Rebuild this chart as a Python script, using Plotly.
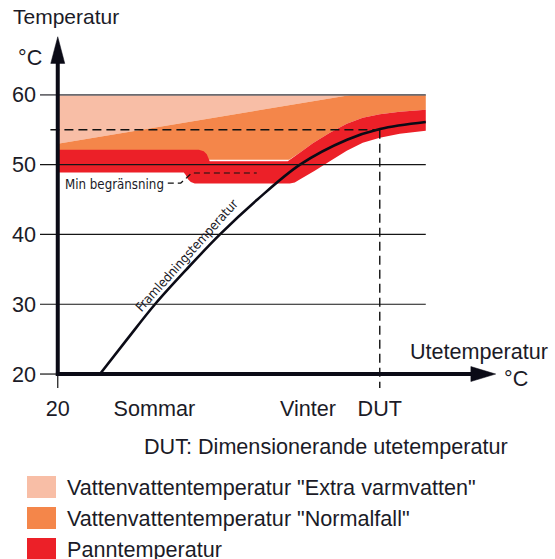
import plotly.graph_objects as go

# ---------------- data ----------------
y_tick_vals = [20, 30, 40, 50, 60]
y_tick_text = ["20", "30", "40", "50", "60"]
x_tick_vals = [20, 9.5, -7.2, -15]
x_tick_text = ["20", "Sommar", "Vinter", "DUT"]

grid_levels = [30, 40, 50, 60]
dut_temp = -15
dut_flow = 55
min_limit = 48.8

# Framledningstemperatur (flow temperature curve)
framledning_x = [15.41, 12.45, 9.43, 6.0, 2.37, -1.7, -6.33, -11.44, -15.02, -20.0]
framledning_y = [20.0, 25.0, 30.0, 35.0, 40.0, 45.0, 50.0, 53.57, 55.1, 56.1]

# Panntemperatur band (upper / lower boundary)
pann_upper_x = [20.0, 4.67, 4.13, 3.80, 3.64, 3.48, -5.0, -6.3, -7.72, -9.57, -11.41, -13.15, -15.0, -17.17, -20.0]
pann_upper_y = [52.14, 52.14, 51.93, 51.5, 51.0, 50.5, 50.5, 51.71, 53.07, 54.57, 55.86, 56.71, 57.21, 57.57, 57.86]
pann_lower_x = [20.0, 6.30, 6.09, 5.87, 5.54, 5.11, -5.22, -5.76, -6.3, -7.93, -9.57, -11.41, -13.15, -15.0, -17.17, -20.0]
pann_lower_y = [48.86, 48.86, 48.5, 47.93, 47.5, 47.29, 47.29, 47.43, 47.86, 49.14, 50.47, 52.0, 53.14, 53.86, 54.43, 54.86]

# Vattenvattentemperatur "Normalfall" (orange) boundaries
normal_upper_x = [20.0, -12.0, -20.0]
normal_upper_y = [53.0, 60.0, 60.0]
normal_lower_x = [-20.0, -17.17, -15.0, -13.15, -11.41, -9.57, -7.72, -6.3, -5.15, 20.0]
normal_lower_y = [57.86, 57.57, 57.21, 56.71, 55.86, 54.57, 53.07, 51.71, 50.71, 50.71]

# Vattenvattentemperatur "Extra varmvatten" (peach) top
extra_top = 60.0

legend_labels = ['Vattenvattentemperatur "Extra varmvatten"',
                 'Vattenvattentemperatur "Normalfall"',
                 'Panntemperatur']

# ---------------- style ----------------
C_EXTRA = "#F8BEA6"
C_NORMAL = "#F4864A"
C_PANN = "#EC2028"
C_TEXT = "#1b1b27"
C_AX = "#0b0b16"
FONT = "Liberation Sans, Arial, Helvetica, sans-serif"
NARROW = "DejaVu Sans Condensed, Liberation Sans Narrow, Arial Narrow, sans-serif"
FS = 21.6

W, H = 555, 559
L, R, T, B = 40, 57, 32, 171
PW, PH = W - L - R, H - T - B
X_RANGE = [21.93, -27.85]
Y_RANGE = [18.0, 69.0]


def fx(px):
    return (px - L) / PW


def fy(py):
    return (H - B - py) / PH


fig = go.Figure()

# peach area: from the sloped normal line up to the top level
fig.add_trace(go.Scatter(
    x=normal_upper_x[:2] + [normal_upper_x[0]],
    y=normal_upper_y[:2] + [extra_top],
    fill="toself", mode="none", fillcolor=C_EXTRA, hoverinfo="skip"))

# orange area
fig.add_trace(go.Scatter(
    x=normal_upper_x + normal_lower_x,
    y=normal_upper_y + normal_lower_y,
    fill="toself", mode="none", fillcolor=C_NORMAL, hoverinfo="skip"))

# red band
fig.add_trace(go.Scatter(
    x=pann_upper_x + pann_lower_x[::-1],
    y=pann_upper_y + pann_lower_y[::-1],
    fill="toself", mode="none", fillcolor=C_PANN, hoverinfo="skip"))

# flow temperature curve
fig.add_trace(go.Scatter(
    x=framledning_x, y=framledning_y, mode="lines",
    line=dict(color=C_AX, width=2.6, shape="spline", smoothing=1.0),
    hoverinfo="skip"))

shapes = []
# grid lines
for g in grid_levels:
    top = g == max(grid_levels)
    shapes.append(dict(type="line", xref="x", yref="y", x0=X_RANGE[0], x1=-20, y0=g, y1=g,
                       line=dict(color="#6b6b70" if top else "#151515", width=1.8 if top else 1.2),
                       layer="above"))
# tick for 20 on both axes
shapes.append(dict(type="line", xref="x", yref="y", x0=X_RANGE[0], x1=20, y0=20, y1=20,
                   line=dict(color="#151515", width=1.2), layer="above"))
shapes.append(dict(type="line", xref="x", yref="y", x0=20, x1=20, y0=20, y1=Y_RANGE[0],
                   line=dict(color="#151515", width=1.2), layer="above"))
# dashed DUT guides
shapes.append(dict(type="line", xref="x", yref="y", x0=20.8, x1=dut_temp, y0=dut_flow, y1=dut_flow,
                   line=dict(color="#111", width=1.4, dash="9px,5px"), layer="above"))
shapes.append(dict(type="line", xref="x", yref="y", x0=dut_temp, x1=dut_temp, y0=dut_flow, y1=Y_RANGE[0],
                   line=dict(color="#111", width=1.4, dash="9px,5px"), layer="above"))
# min limit dashed leader
shapes.append(dict(type="path", xref="x", yref="y",
                   path=f"M 8.04,47.36 L 6.63,47.36 L 5.43,{min_limit} L -1.63,{min_limit}",
                   line=dict(color="#111", width=1.2, dash="6px,4px"), layer="above"))
# axes with arrows
shapes.append(dict(type="line", xref="x", yref="y", x0=20, x1=20, y0=19.72, y1=65.0,
                   line=dict(color=C_AX, width=4), layer="above"))
shapes.append(dict(type="path", xref="x", yref="y",
                   path="M 20.76,64.5 L 20,68.32 L 19.24,64.5 Z",
                   fillcolor=C_AX, line=dict(color=C_AX, width=0.5), layer="above"))
shapes.append(dict(type="line", xref="x", yref="y", x0=20.2, x1=-25.2, y0=20, y1=20,
                   line=dict(color=C_AX, width=4), layer="above"))
shapes.append(dict(type="path", xref="x", yref="y",
                   path="M -24.9,18.93 L -27.6,20 L -24.9,21.07 Z",
                   fillcolor=C_AX, line=dict(color=C_AX, width=0.5), layer="above"))

# legend swatches
leg_rows = [487, 518, 549]
leg_colors = [C_EXTRA, C_NORMAL, C_PANN]
for yy, c in zip(leg_rows, leg_colors):
    shapes.append(dict(type="rect", xref="paper", yref="paper", x0=fx(27), x1=fx(56),
                       y0=fy(yy + 11), y1=fy(yy - 11), fillcolor=c, line=dict(width=0)))

ann = []


def text(s, px, py, anchor="left", size=FS, fam=FONT):
    ann.append(dict(text=s, xref="paper", yref="paper", x=fx(px), y=fy(py),
                    xanchor=anchor, yanchor="middle", showarrow=False,
                    font=dict(family=fam, size=size, color=C_TEXT)))


text("Temperatur", 11, 17, size=21)
text("°C", 16, 57)
text("Utetemperatur", 408, 351)
text("°C", 502, 378)
text("DUT: Dimensionerande utetemperatur", 142, 446)
text("Min begränsning", 166, 184, anchor="right", size=13.2, fam=NARROW)
for yy, lab in zip(leg_rows, legend_labels):
    text(lab, 65, yy)

ann.append(dict(text="Framledningstemperatur", xref="x", yref="y", x=6.0, y=37.0,
                textangle=-48, showarrow=False, xanchor="center", yanchor="middle",
                font=dict(family=NARROW, size=13, color=C_TEXT)))

fig.update_layout(
    width=W, height=H, margin=dict(l=L, r=R, t=T, b=B, autoexpand=False),
    paper_bgcolor="white", plot_bgcolor="white", showlegend=False,
    shapes=shapes, annotations=ann,
    font=dict(family=FONT, size=FS, color=C_TEXT),
    xaxis=dict(range=X_RANGE, showgrid=False, zeroline=False, showline=False,
               tickvals=x_tick_vals, ticktext=x_tick_text, ticks="",
               ticklabelstandoff=5, tickfont=dict(size=FS, color=C_TEXT), fixedrange=True),
    yaxis=dict(range=Y_RANGE, showgrid=False, zeroline=False, showline=False,
               tickvals=y_tick_vals, ticktext=y_tick_text, ticks="",
               ticklabelstandoff=3, tickfont=dict(size=FS, color=C_TEXT), fixedrange=True),
)

fig.write_html("out.html", config={"displayModeBar": False},
               post_script="document.body.style.margin='0';document.body.style.overflow='hidden';")
